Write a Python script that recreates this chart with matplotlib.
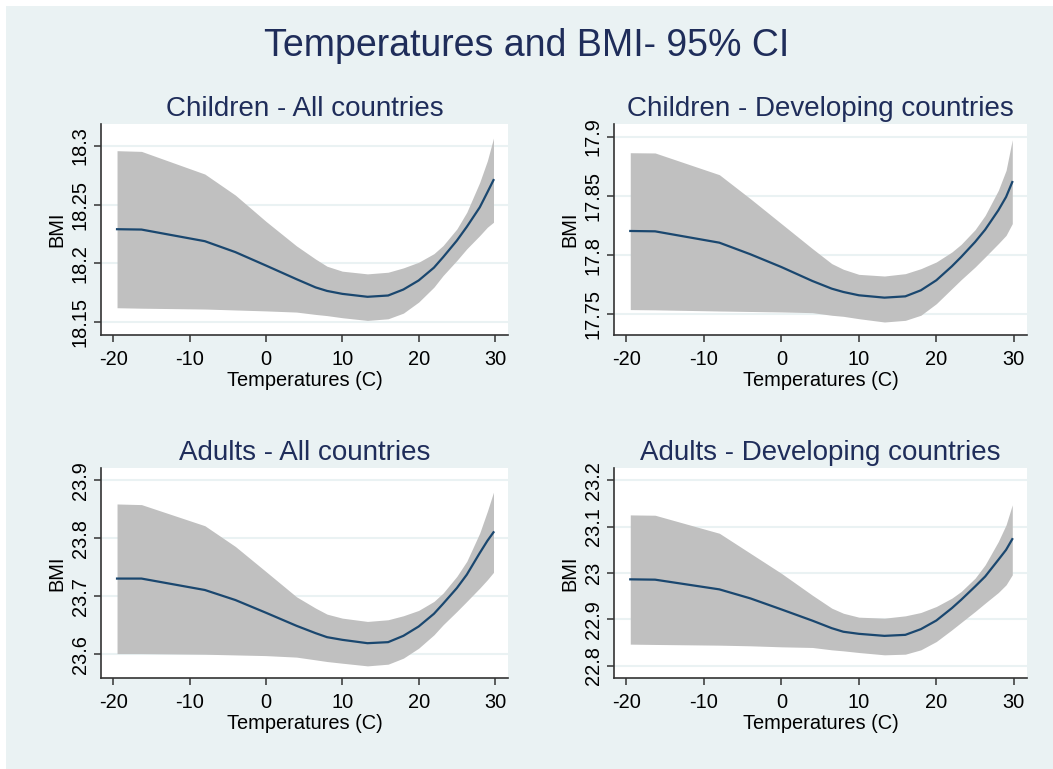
import matplotlib.pyplot as plt
import numpy as np

plt.rcParams['font.family'] = ['Liberation Sans', 'DejaVu Sans']
plt.rcParams['axes.unicode_minus'] = False

temp = [-19.5, -16.3, -8, -4, 0, 4, 6.5, 8, 10, 13.3, 16, 18, 20, 22, 23.2, 25, 26.3, 28, 29, 29.8]

# Children - All countries
ch_all_fit = [18.229, 18.2287, 18.2188, 18.2095, 18.1981, 18.1865, 18.1795, 18.1765, 18.174, 18.1715,
              18.1726, 18.1777, 18.1854, 18.1963, 18.2052, 18.2193, 18.231, 18.2476, 18.2604, 18.2708]
ch_all_hi = [18.2958, 18.2952, 18.2759, 18.258, 18.2357, 18.2148, 18.2036, 18.1975, 18.1933, 18.191,
             18.1924, 18.1961, 18.2009, 18.2082, 18.2151, 18.2292, 18.2434, 18.2689, 18.2873, 18.3065]
ch_all_lo = [18.1622, 18.1618, 18.1611, 18.1603, 18.1595, 18.1585, 18.1565, 18.1555, 18.1537, 18.1514,
             18.1528, 18.1576, 18.167, 18.1797, 18.1896, 18.2024, 18.2123, 18.2236, 18.2307, 18.2349]

# Children - Developing countries
ch_dev_fit = [17.8205, 17.8202, 17.8106, 17.8008, 17.79, 17.7782, 17.7717, 17.7689, 17.7661, 17.7641,
              17.7652, 17.7703, 17.7788, 17.7906, 17.7985, 17.8112, 17.8216, 17.838, 17.8493, 17.8619]
ch_dev_hi = [17.8867, 17.8865, 17.8681, 17.8478, 17.8267, 17.8056, 17.7929, 17.7881, 17.7838, 17.7824,
             17.7844, 17.7886, 17.7943, 17.8027, 17.8092, 17.8216, 17.8337, 17.8549, 17.8718, 17.8977]
ch_dev_lo = [17.754, 17.7538, 17.7528, 17.7524, 17.752, 17.7514, 17.7492, 17.7483, 17.7463, 17.7435,
             17.7449, 17.7492, 17.759, 17.7717, 17.7793, 17.79, 17.7985, 17.8098, 17.8168, 17.8267]

# Adults - All countries
ad_all_fit = [23.7304, 23.7304, 23.7107, 23.6934, 23.6715, 23.649, 23.6363, 23.6294, 23.6248, 23.619,
              23.6208, 23.6317, 23.6478, 23.6697, 23.687, 23.714, 23.7371, 23.7745, 23.7955, 23.8102]
ad_all_hi = [23.859, 23.8579, 23.8215, 23.7857, 23.7425, 23.699, 23.6795, 23.6691, 23.6622, 23.6565,
             23.6594, 23.6663, 23.6755, 23.691, 23.7054, 23.7342, 23.7601, 23.809, 23.8465, 23.8793]
ad_all_lo = [23.6011, 23.6011, 23.6, 23.5988, 23.5976, 23.595, 23.5903, 23.5874, 23.5845, 23.5799,
             23.5828, 23.5932, 23.6104, 23.6334, 23.6507, 23.6737, 23.691, 23.714, 23.7284, 23.7411]

# Adults - Developing countries
ad_dev_fit = [22.9863, 22.9856, 22.9646, 22.9451, 22.9213, 22.897, 22.8807, 22.873, 22.8685, 22.8641,
              22.8663, 22.8786, 22.8973, 22.924, 22.942, 22.9708, 22.9924, 23.0285, 23.0501, 23.0732]
ad_dev_hi = [23.1256, 23.1249, 23.0859, 23.0426, 22.9993, 22.952, 22.924, 22.913, 22.9045, 22.9023,
             22.9074, 22.9146, 22.9276, 22.9456, 22.96, 22.9888, 23.0177, 23.0681, 23.1041, 23.1474]
ad_dev_lo = [22.8462, 22.8455, 22.844, 22.8426, 22.8404, 22.839, 22.8339, 22.8317, 22.8281, 22.8231,
             22.8245, 22.8339, 22.8519, 22.8771, 22.893, 22.9168, 22.9348, 22.9578, 22.9744, 22.996]

xticks = [-20, -10, 0, 10, 20, 30]
ch_all_yt = [18.15, 18.2, 18.25, 18.3]
ch_dev_yt = [17.75, 17.8, 17.85, 17.9]
ad_all_yt = [23.6, 23.7, 23.8, 23.9]
ad_dev_yt = [22.8, 22.9, 23, 23.1, 23.2]

W, H = 1053, 769
bg = '#eaf2f3'
navy = '#1a476f'
title_col = '#1f2d5a'

fig = plt.figure(figsize=(W / 100, H / 100), dpi=100, facecolor='white')
fig.patches.append(plt.Rectangle((6 / W, 0), 1 - 6 / W, 1 - 6 / H, transform=fig.transFigure,
                                 facecolor=bg, edgecolor='none', zorder=-10))

panels = [
    ("Children - All countries", (101, 124, 508, 335), ch_all_fit, ch_all_hi, ch_all_lo,
     ch_all_yt, (18.139, 18.3185), ['18.15', '18.2', '18.25', '18.3']),
    ("Children - Developing countries", (614, 124, 1027, 335), ch_dev_fit, ch_dev_hi, ch_dev_lo,
     ch_dev_yt, (17.7325, 17.911), ['17.75', '17.8', '17.85', '17.9']),
    ("Adults - All countries", (101, 468, 508, 678), ad_all_fit, ad_all_hi, ad_all_lo,
     ad_all_yt, (23.559, 23.921), ['23.6', '23.7', '23.8', '23.9']),
    ("Adults - Developing countries", (614, 468, 1027, 678), ad_dev_fit, ad_dev_hi, ad_dev_lo,
     ad_dev_yt, (22.773, 23.227), ['22.8', '22.9', '23', '23.1', '23.2']),
]

for title, (l, t, r, b), fit, hi, lo, yt, ylim, ylab in panels:
    ax = fig.add_axes([l / W, 1 - b / H, (r - l) / W, (b - t) / H])
    ax.set_facecolor('white')
    ax.fill_between(temp, lo, hi, color='#c0c0c0', linewidth=0)
    ax.plot(temp, fit, color=navy, linewidth=1.6)
    ax.set_xlim(-21.6, 31.7)
    ax.set_ylim(*ylim)
    ax.set_xticks(xticks)
    ax.set_yticks(yt)
    ax.set_yticklabels(ylab, rotation=90, va='center')
    ax.grid(axis='y', color=bg, linewidth=1.5)
    ax.set_axisbelow(True)
    for s in ['top', 'right']:
        ax.spines[s].set_visible(False)
    for s in ['left', 'bottom']:
        ax.spines[s].set_color('#333333')
        ax.spines[s].set_linewidth(1.2)
    ax.tick_params(direction='out', length=5, width=1.1, color='#333333', labelsize=14.4, pad=3)
    ax.tick_params(axis='x', pad=6)
    ax.set_xlabel("Temperatures (C)", fontsize=14.4, labelpad=1)
    ax.set_ylabel("BMI", fontsize=14.4, labelpad=3)
    ax.set_title(title, fontsize=20, color=title_col, pad=6)

fig.text(0.5, 1 - 46 / H, "Temperatures and BMI- 95% CI", ha='center', va='center',
         fontsize=27, color=title_col)

fig.savefig('out.png', dpi=100, facecolor=fig.get_facecolor())
